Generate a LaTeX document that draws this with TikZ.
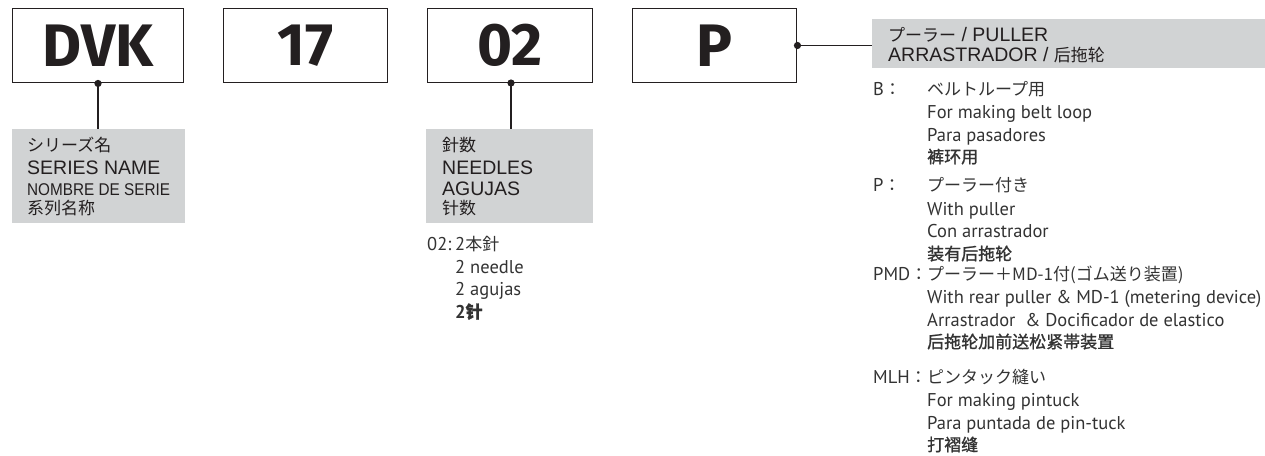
\documentclass[tikz,border=0pt]{standalone}
\usepackage{fontspec}
\setmainfont{PT Sans}
\newfontfamily\boxfont{Fira Sans}
\newfontfamily\arialf{Liberation Sans}
\newfontfamily\narrowf{Liberation Sans}[FakeStretch=0.9]
\newfontfamily\jpf{Noto Sans CJK JP}
\newfontfamily\scf{Noto Sans CJK SC}
\newfontfamily\scbf{Noto Sans CJK SC}[FakeBold=1.2]
\newfontfamily\myr{PT Sans}
\definecolor{ink}{HTML}{231F20}
\definecolor{listink}{HTML}{333333}
\definecolor{grayfill}{HTML}{D1D3D4}
\tikzset{
  codebox/.style={draw=ink, line width=1.9pt, minimum height=74pt, inner sep=0pt, text=ink,
    font=\boxfont\bfseries\fontsize{60}{60}\selectfont},
  graybox/.style={fill=grayfill, draw=none, inner sep=0pt},
  conn/.style={draw=ink, line width=1.5pt},
  dotmark/.style={fill=ink},
  garial/.style={anchor=base west, inner sep=0pt, text=ink, font=\arialf\fontsize{19.5}{20}\selectfont},
  gnarrow/.style={anchor=base west, inner sep=0pt, text=ink, font=\narrowf\fontsize{17}{18}\selectfont},
  gjp/.style={anchor=base west, inner sep=0pt, text=ink, font=\jpf\fontsize{17}{18}\selectfont},
  gsc/.style={anchor=base west, inner sep=0pt, text=ink, font=\scf\fontsize{17}{18}\selectfont},
  lst/.style={anchor=base west, inner sep=0pt, text=listink, font=\myr\fontsize{18.5}{19}\selectfont},
  lstjp/.style={anchor=base west, inner sep=0pt, text=listink, font=\jpf\fontsize{17}{18}\selectfont},
  lstsc/.style={anchor=base west, inner sep=0pt, text=listink, font=\scbf\fontsize{17}{18}\selectfont},
}
\begin{document}
\begin{tikzpicture}[x=1pt,y=-1pt]
\useasboundingbox (0,0) rectangle (1265,455);
% code boxes
\node[codebox, minimum width=171pt] (dvk) at (98,45.5) {DVK};
\node[codebox, minimum width=164pt] (b17) at (305.5,45.5) {17};
\node[codebox, minimum width=165pt] (b02) at (510,45.5) {02};
\node[codebox, minimum width=164pt] (bp) at (714.5,45.5) {P};
% gray boxes
\node[graybox, minimum width=173pt, minimum height=94pt] (gser) at (98.5,176) {};
\node[graybox, minimum width=167pt, minimum height=94pt] (gneed) at (509.5,176) {};
\node[graybox, minimum width=393pt, minimum height=49pt] (gpull) at (1068.5,43.5) {};
% connectors
\coordinate (dser) at (dvk.south);
\coordinate (dneed) at (511,83);
\draw[conn] (dser) -- (dser |- gser.north);
\fill[dotmark] (dser) circle (3.6pt);
\draw[conn] (dneed) -- (dneed |- gneed.north);
\fill[dotmark] (dneed) circle (3.6pt);
\coordinate (dpull) at (bp.east);
\draw[conn] (dpull) -- (dpull -| gpull.west);
\fill[dotmark] (dpull) circle (3.6pt);
% series name box text
\node[gjp] (s1) at (27,151) {シリーズ名};
\node[garial] (s2) at (27,174) {SERIES NAME};
\node[gnarrow] (s3) at (27,195) {NOMBRE DE SERIE};
\node[gsc] (s4) at (27,214) {系列名称};
% needles box text
\node[gjp] (n1) at (442,151) {針数};
\node[garial] (n2) at (442,174) {NEEDLES};
\node[garial] (n3) at (442,195) {AGUJAS};
\node[gsc] (n4) at (442,214) {针数};
% needles list
\node[lst] (nl0) at (427,250) {02:};
\node[lst] (nl1) at (455,250) {2{\jpf\fontsize{17}{18}\selectfont 本針}};
\node[lst] (nl2) at (455,273) {2 needle};
\node[lst] (nl3) at (455,295) {2 agujas};
\node[lst] (nl4) at (455,318) {\bfseries 2{\scbf\fontsize{17}{18}\selectfont 针}};
% puller box text
\node[garial] (p1) at (888,41) {{\jpf\fontsize{17}{18}\selectfont プーラー} / PULLER};
\node[garial] (p2) at (888,61) {ARRASTRADOR / {\scf\fontsize{17}{18}\selectfont 后拖轮}};
% list B
\node[lst] (lb) at (873,95) {B{\jpf\fontsize{17}{18}\selectfont ：}};
\node[lstjp] (b1) at (927,95) {ベルトループ用};
\node[lst] (b2) at (927,118) {For making belt loop};
\node[lst] (b3) at (927,141) {Para pasadores};
\node[lstsc] (b4) at (927,163) {裤环用};
% list P
\node[lst] (lp) at (873,191) {P{\jpf\fontsize{17}{18}\selectfont ：}};
\node[lstjp] (p1l) at (927,191) {プーラー付き};
\node[lst] (p2l) at (927,215) {With puller};
\node[lst] (p3l) at (927,237) {Con arrastrador};
\node[lstsc] (p4l) at (927,260) {装有后拖轮};
% list PMD
\node[lst] (lpmd) at (873,280) {PMD{\jpf\fontsize{17}{18}\selectfont ：}};
\node[lstjp] (m1) at (927,280) {プーラー＋MD-1付(ゴム送り装置)};
\node[lst] (m2) at (927,303) {With rear puller \& MD-1 (metering device)};
\node[lst] (m3) at (927,326) {Arrastrador \ \& Docificador de elastico};
\node[lstsc] (m4) at (927,348) {后拖轮加前送松紧帯装置};
% list MLH
\node[lst] (lmlh) at (873,383) {MLH{\jpf\fontsize{17}{18}\selectfont ：}};
\node[lstjp] (h1) at (927,383) {ピンタック縫い};
\node[lst] (h2) at (927,406) {For making pintuck};
\node[lst] (h3) at (927,429) {Para puntada de pin-tuck};
\node[lstsc] (h4) at (927,451) {打褶缝};
\end{tikzpicture}
\end{document}
